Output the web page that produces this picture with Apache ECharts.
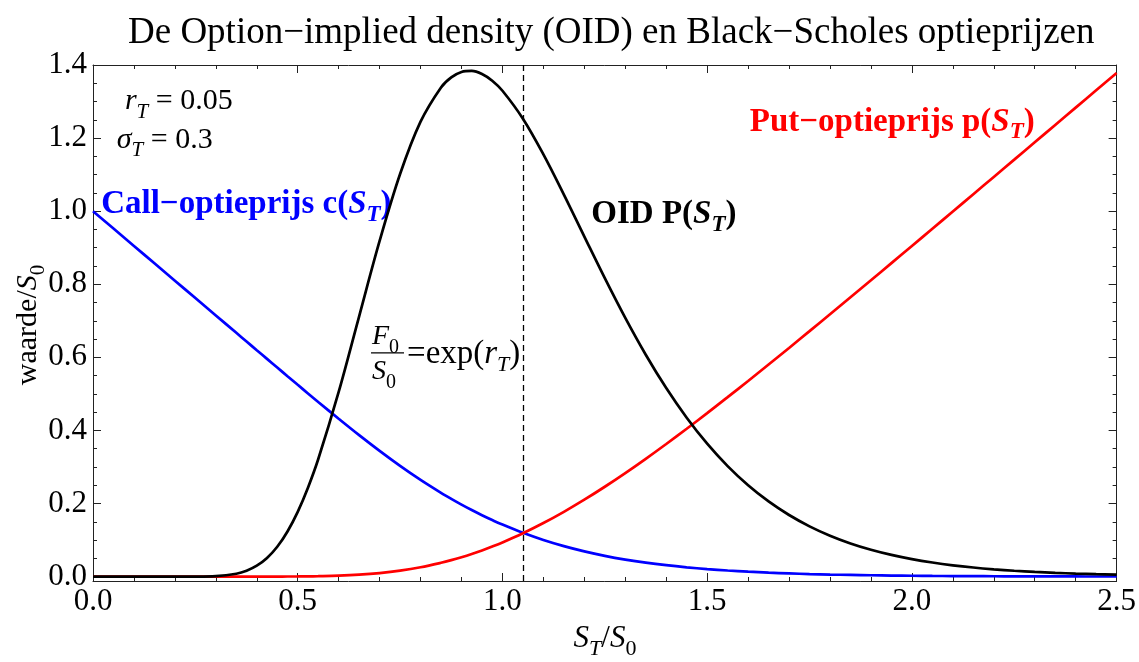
<!DOCTYPE html>
<html>
<head>
<meta charset="utf-8">
<script src="https://cdn.jsdelivr.net/npm/echarts@6/dist/echarts.min.js"></script>
<style>
  html, body { margin: 0; padding: 0; background: #fff; }
  #chart { width: 1139px; height: 662px; }
</style>
</head>
<body>
<div id="chart"></div>
<script>
// Strike relative to spot, S_T / S_0 (denser where the density bends sharply)
const strikes = [
  0.00, 0.05, 0.10, 0.15, 0.20, 0.25, 0.30, 0.35, 0.375, 0.40,
  0.425, 0.45, 0.475, 0.50, 0.525, 0.55, 0.60, 0.65, 0.70, 0.75,
  0.80, 0.85, 0.875, 0.90, 0.925, 0.95, 0.975, 1.00, 1.05, 1.10,
  1.15, 1.20, 1.25, 1.30, 1.35, 1.40, 1.45, 1.50, 1.55, 1.60,
  1.65, 1.70, 1.75, 1.80, 1.85, 1.90, 1.95, 2.00, 2.05, 2.10,
  2.15, 2.20, 2.25, 2.30, 2.35, 2.40, 2.45, 2.50
];

// Call option price c(S_T) / S_0
const callPrice = [
  1.0000, 0.9524, 0.9049, 0.8573, 0.8098, 0.7622, 0.7146, 0.6671, 0.6433, 0.6195,
  0.5958, 0.5721, 0.5484, 0.5248, 0.5013, 0.4780, 0.4320, 0.3871, 0.3440, 0.3030,
  0.2646, 0.2292, 0.2127, 0.1970, 0.1821, 0.1680, 0.1548, 0.1423, 0.1198, 0.1002,
  0.0834, 0.0690, 0.0569, 0.0467, 0.0382, 0.0312, 0.0254, 0.0206, 0.0167, 0.0135,
  0.0109, 0.0088, 0.0070, 0.0057, 0.0046, 0.0037, 0.0029, 0.0024, 0.0019, 0.0015,
  0.0012, 0.0010, 0.0008, 0.0006, 0.0005, 0.0004, 0.0003, 0.0003
];

// Put option price p(S_T) / S_0
const putPrice = [
  0.0000, 0.0000, 0.0000, 0.0000, 0.0000, 0.0000, 0.0000, 0.0000, 0.0000, 0.0000,
  0.0001, 0.0001, 0.0003, 0.0004, 0.0007, 0.0012, 0.0027, 0.0054, 0.0098, 0.0164,
  0.0256, 0.0378, 0.0450, 0.0531, 0.0620, 0.0717, 0.0822, 0.0935, 0.1186, 0.1466,
  0.1773, 0.2105, 0.2459, 0.2833, 0.3224, 0.3629, 0.4046, 0.4474, 0.4911, 0.5354,
  0.5804, 0.6258, 0.6717, 0.7179, 0.7643, 0.8110, 0.8578, 0.9048, 0.9519, 0.9991,
  1.0464, 1.0937, 1.1410, 1.1885, 1.2359, 1.2834, 1.3308, 1.3783
];

// Option-implied density P(S_T)
const density = [
  0.0000, 0.0000, 0.0000, 0.0000, 0.0000, 0.0001, 0.0013, 0.0079, 0.0160, 0.0298,
  0.0511, 0.0818, 0.1236, 0.1773, 0.2434, 0.3211, 0.5054, 0.7124, 0.9185, 1.1016,
  1.2449, 1.3387, 1.3661, 1.3809, 1.3837, 1.3754, 1.3570, 1.3296, 1.2531, 1.1554,
  1.0454, 0.9306, 0.8167, 0.7080, 0.6072, 0.5159, 0.4348, 0.3637, 0.3024, 0.2500,
  0.2057, 0.1686, 0.1376, 0.1120, 0.0908, 0.0735, 0.0594, 0.0479, 0.0386, 0.0310,
  0.0249, 0.0200, 0.0160, 0.0128, 0.0103, 0.0082, 0.0066, 0.0053
];

// Forward relative to spot: F0/S0 = exp(r_T) with r_T = 0.05
const forwardRatio = 1.0513;

// Tick positions of the value axis
const yMajorTicks = [0, 0.2, 0.4, 0.6, 0.8, 1.0, 1.2, 1.4];
const yMinorTicks = [0.05, 0.1, 0.15, 0.25, 0.3, 0.35, 0.45, 0.5, 0.55, 0.65, 0.7, 0.75,
                     0.85, 0.9, 0.95, 1.05, 1.1, 1.15, 1.25, 1.3, 1.35];

const serif = 'Liberation Serif';
const chart = echarts.init(document.getElementById('chart'), null, { renderer: 'canvas' });

const pairs = vals => strikes.map((x, i) => [x, vals[i]]);
const fmt = v => Number(v).toFixed(1);

function xAxisDef(pos, labels) {
  return {
    type: 'value', position: pos, min: 0, max: 2.5, interval: 0.5,
    axisLine: { show: true, onZero: false, lineStyle: { color: '#222', width: 1 } },
    axisTick: { show: true, inside: true, length: 8, lineStyle: { color: '#222', width: 1 } },
    minorTick: { show: true, splitNumber: 5, length: 4, lineStyle: { color: '#222', width: 1 } },
    axisLabel: { show: labels, fontFamily: serif, fontSize: 31, color: '#000', margin: 5, formatter: fmt },
    splitLine: { show: false }, minorSplitLine: { show: false }
  };
}
function yAxisDef(pos, ticks, len, line, labels) {
  return {
    type: 'value', position: pos, min: -0.012, max: 1.4, offset: 0,
    axisLine: { show: line, onZero: false, lineStyle: { color: '#222', width: 1 } },
    axisTick: { show: true, inside: true, length: len, customValues: ticks, lineStyle: { color: '#222', width: 1 } },
    axisLabel: { show: labels, customValues: ticks, fontFamily: serif, fontSize: 31, color: '#000', margin: 6, formatter: fmt },
    splitLine: { show: false }
  };
}

const lineSeries = (name, vals, color, extra) => Object.assign({
  name, type: 'line', data: pairs(vals), smooth: 0.35, showSymbol: false, symbol: 'none',
  xAxisIndex: 0, yAxisIndex: 0, silent: true,
  lineStyle: { color, width: 2.7 }, itemStyle: { color }
}, extra || {});

chart.setOption({
  animation: false,
  backgroundColor: '#fff',
  title: {
    text: 'De Option\u2212implied density (OID) en Black\u2212Scholes optieprijzen',
    left: 123, top: 10,
    textStyle: { fontFamily: serif, fontSize: 37, fontWeight: 'normal', color: '#000' }
  },
  grid: { left: 93, right: 19, top: 65, bottom: 81 },
  xAxis: [xAxisDef('bottom', true), xAxisDef('top', false)],
  yAxis: [
    yAxisDef('left', yMajorTicks, 8, true, true),
    yAxisDef('left', yMinorTicks, 4, false, false),
    yAxisDef('right', yMajorTicks, 8, true, false),
    yAxisDef('right', yMinorTicks, 4, false, false)
  ],
  series: [
    lineSeries('call', callPrice, '#0000ff'),
    lineSeries('put', putPrice, '#ff0000'),
    lineSeries('oid', density, '#000000', {
      markLine: {
        silent: true, symbol: 'none', label: { show: false },
        lineStyle: { color: '#000', width: 1.3, type: [6, 4] },
        data: [{ xAxis: forwardRatio }]
      }
    })
  ]
});

// Annotations, placed in data coordinates
const px = (x, y) => chart.convertToPixel({ gridIndex: 0 }, [x, y]);

function plainRich(size, subSize) {
  return {
    n:  { fontFamily: serif, fontSize: size, fill: '#000', lineHeight: 42 },
    i:  { fontFamily: serif, fontSize: size, fontStyle: 'italic', fill: '#000', lineHeight: 42 },
    s:  { fontFamily: serif, fontSize: subSize, fontStyle: 'italic', fill: '#000', lineHeight: 25, verticalAlign: 'bottom' },
    s0: { fontFamily: serif, fontSize: subSize, fill: '#000', lineHeight: 25, verticalAlign: 'bottom' }
  };
}
function boldRich(color) {
  return {
    b:  { fontFamily: serif, fontSize: 33, fontWeight: 'bold', fill: color, lineHeight: 44 },
    bi: { fontFamily: serif, fontSize: 33, fontWeight: 'bold', fontStyle: 'italic', fill: color, lineHeight: 44 },
    bs: { fontFamily: serif, fontSize: 23, fontWeight: 'bold', fontStyle: 'italic', fill: color, lineHeight: 26, verticalAlign: 'bottom' }
  };
}
function label(pos, text, rich, align) {
  return { type: 'text', x: pos[0], y: pos[1], silent: true,
           style: { text, rich, textAlign: align || 'left', textVerticalAlign: 'middle' } };
}

const paramRich = plainRich(30, 21);
const fracRich = plainRich(28, 20);
const fracLeft = px(0.679, 0.607);
const fx = fracLeft[0], fy = fracLeft[1];

chart.setOption({
  graphic: [
    label(px(0.078, 1.30), '{i|r}{s|T}{n| = 0.05}', paramRich),
    label(px(0.058, 1.195), '{i|\u03c3}{s|T}{n| = 0.3}', paramRich),
    label(px(0.020, 1.017), '{b|Call\u2212optieprijs c(}{bi|S}{bs|T}{b|)}', boldRich('#0000ff')),
    label(px(1.604, 1.244), '{b|Put\u2212optieprijs p(}{bi|S}{bs|T}{b|)}', boldRich('#ff0000')),
    label(px(1.217, 0.990), '{b|OID P(}{bi|S}{bs|T}{b|)}', boldRich('#000000')),
    // F0 / S0 = exp(r_T)
    label([fx + 1, fy - 18], '{i|F}{s0|0}', fracRich),
    { type: 'line', silent: true, shape: { x1: fx, y1: fy - 2, x2: fx + 33, y2: fy - 2 },
      style: { stroke: '#000', lineWidth: 1.2 } },
    label([fx + 1, fy + 17], '{i|S}{s0|0}', fracRich),
    label([fx + 36, fy], '{n|=exp(}{i|r}{s|T}{n|)}', plainRich(33, 22)),
    // axis titles
    { type: 'text', x: 28, y: 325, rotation: Math.PI / 2, silent: true,
      style: { text: '{n|waarde/}{i|S}{s0|0}', textAlign: 'center', textVerticalAlign: 'middle',
               rich: plainRich(30, 21) } },
    { type: 'text', x: 605, y: 639, silent: true,
      style: { text: '{i|S}{s|T}{n|/}{i|S}{s0|0}', textAlign: 'center', textVerticalAlign: 'middle',
               rich: plainRich(31, 22) } }
  ]
});
</script>
</body>
</html>
